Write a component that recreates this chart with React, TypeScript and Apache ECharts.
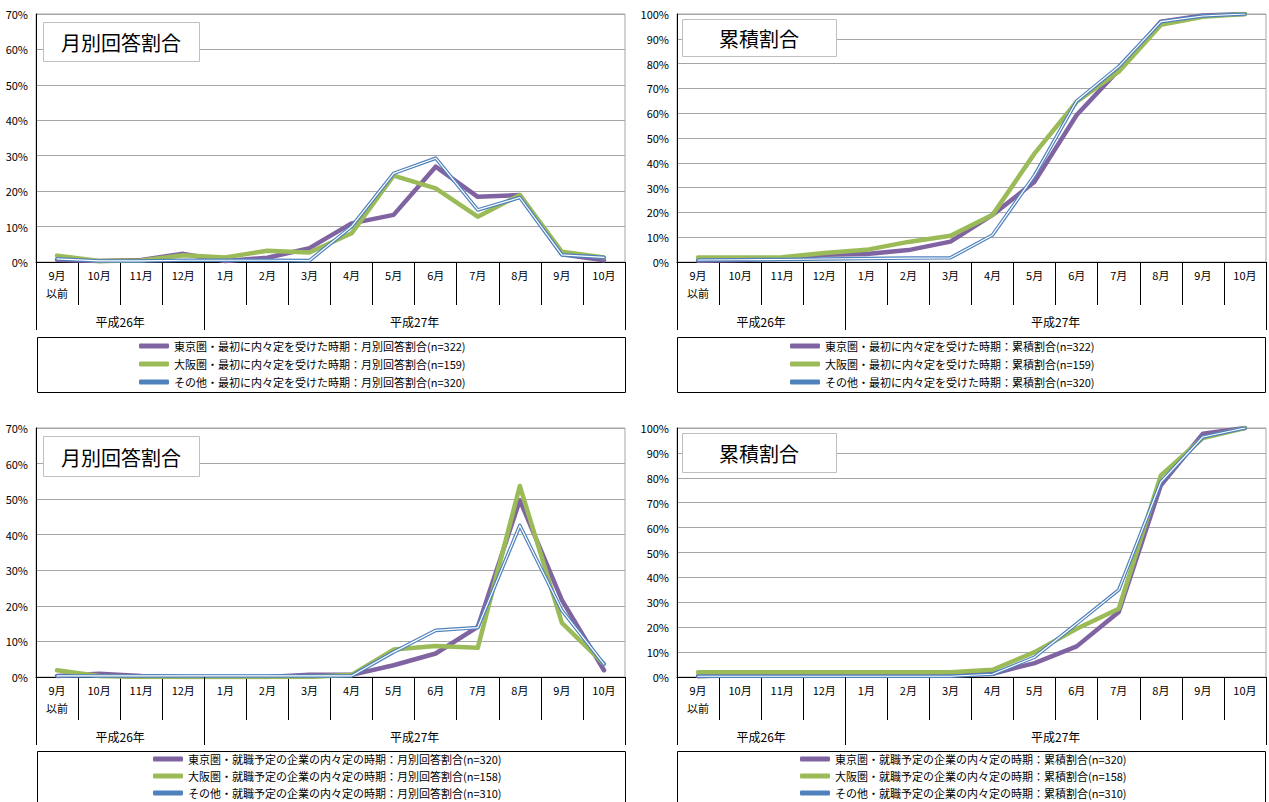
import React, { useEffect, useRef } from 'react';
import * as echarts from 'echarts';

const categories = ['9月\n以前', '10月', '11月', '12月', '1月', '2月', '3月', '4月', '5月', '6月', '7月', '8月', '9月', '10月'];
const yearLabels = ['平成26年', '平成27年'];
const yearSpans = [4, 10];

const tokyoMonthly1 = [0.6, 0.3, 0.6, 2.3, 0.3, 1.2, 3.9, 10.9, 13.3, 26.9, 18.4, 18.9, 2.2, 0.5];
const osakaMonthly1 = [1.8, 0.3, 0.4, 1.9, 1.3, 3.2, 2.7, 8.1, 24.4, 20.8, 12.8, 18.9, 2.9, 1.3];
const otherMonthly1 = [0.9, 0.3, 0.3, 0.5, 0.5, 0.5, 0.4, 10.0, 25.0, 29.3, 14.7, 18.2, 2.0, 1.3];

const tokyoCum1 = [0.5, 0.8, 1.3, 2.9, 3.2, 4.8, 8.2, 19.0, 32.4, 59.3, 77.4, 96.9, 99.4, 100];
const osakaCum1 = [1.8, 1.8, 1.9, 3.6, 4.9, 8.1, 10.6, 19.0, 43.8, 64.6, 76.7, 95.6, 98.9, 100];
const otherCum1 = [0.8, 0.9, 1.0, 1.2, 1.4, 1.6, 1.7, 10.9, 35.0, 64.9, 78.8, 96.9, 99.2, 100];

const tokyoMonthly2 = [0.3, 0.9, 0.3, 0, 0, 0, 0.6, 0.6, 3.3, 6.6, 14.1, 49.7, 21.6, 1.9];
const osakaMonthly2 = [1.9, 0.3, 0, 0, 0, 0, 0, 0.6, 7.7, 8.7, 8.2, 53.7, 15.2, 3.7];
const otherMonthly2 = [0.3, 0.3, 0.3, 0.3, 0.3, 0.3, 0.3, 0.3, 7.0, 13.1, 13.9, 42.6, 18.7, 3.6];

const tokyoCum2 = [0.3, 0.8, 0.8, 0.8, 0.8, 0.8, 1.0, 1.3, 5.6, 12.3, 26.1, 77.0, 97.7, 100];
const osakaCum2 = [1.9, 1.9, 1.9, 1.9, 1.9, 1.9, 1.9, 2.9, 10.0, 19.4, 27.4, 81.0, 96.0, 100];
const otherCum2 = [0.3, 0.3, 0.3, 0.3, 0.3, 0.3, 0.3, 1.1, 8.0, 21.4, 35.0, 78.3, 96.4, 100];

const namesTL = [
  '東京圏・最初に内々定を受けた時期：月別回答割合(n=322)',
  '大阪圏・最初に内々定を受けた時期：月別回答割合(n=159)',
  'その他・最初に内々定を受けた時期：月別回答割合(n=320)',
];
const namesTR = [
  '東京圏・最初に内々定を受けた時期：累積割合(n=322)',
  '大阪圏・最初に内々定を受けた時期：累積割合(n=159)',
  'その他・最初に内々定を受けた時期：累積割合(n=320)',
];
const namesBL = [
  '東京圏・就職予定の企業の内々定の時期：月別回答割合(n=320)',
  '大阪圏・就職予定の企業の内々定の時期：月別回答割合(n=158)',
  'その他・就職予定の企業の内々定の時期：月別回答割合(n=310)',
];
const namesBR = [
  '東京圏・就職予定の企業の内々定の時期：累積割合(n=320)',
  '大阪圏・就職予定の企業の内々定の時期：累積割合(n=158)',
  'その他・就職予定の企業の内々定の時期：累積割合(n=310)',
];

const titleMonthly = '月別回答割合';
const titleCum = '累積割合';

const FONT = '"Noto Sans CJK JP", "Noto Sans", sans-serif';
const COLORS = ['#8064A2', '#9BBB59', '#4F81BD'];
const GRID_COLOR = '#A6A6A6';

const panels = [
  { left: 36, top: 14, width: 589, height: 248, max: 70, title: titleMonthly, names: namesTL, data: [tokyoMonthly1, osakaMonthly1, otherMonthly1], titleBox: [43, 22, 156, 39], legendBox: [37.5, 337.5, 588, 55], legendLeft: 139, legendTop: 339, legendStep: 18 },
  { left: 677, top: 14, width: 589, height: 248, max: 100, title: titleCum, names: namesTR, data: [tokyoCum1, osakaCum1, otherCum1], titleBox: [682, 19, 154, 37], legendBox: [677.5, 337.5, 588, 55], legendLeft: 790, legendTop: 339, legendStep: 18 },
  { left: 36, top: 428, width: 589, height: 249, max: 70, title: titleMonthly, names: namesBL, data: [tokyoMonthly2, osakaMonthly2, otherMonthly2], titleBox: [43, 436, 156, 40], legendBox: [37.5, 751.5, 588, 60], legendLeft: 153, legendTop: 752, legendStep: 17 },
  { left: 677, top: 428, width: 589, height: 249, max: 100, title: titleCum, names: namesBR, data: [tokyoCum2, osakaCum2, otherCum2], titleBox: [682, 433, 154, 39], legendBox: [677.5, 751.5, 588, 60], legendLeft: 800, legendTop: 752, legendStep: 17 },
];

export default function App() {
  const ref = useRef<HTMLDivElement>(null);

  useEffect(() => {
    if (!ref.current) return;
    const chart = echarts.init(ref.current, undefined, { renderer: 'svg' });

    const grids: any[] = [];
    const xAxes: any[] = [];
    const yAxes: any[] = [];
    const legends: any[] = [];
    const series: any[] = [];
    const graphics: any[] = [];

    panels.forEach((p, i) => {
      grids.push({
        left: p.left, top: p.top, width: p.width, height: p.height,
        show: true, borderColor: GRID_COLOR, borderWidth: 1, containLabel: false,
      });
      xAxes.push({
        type: 'category', gridIndex: i, data: categories, boundaryGap: true,
        axisLine: { show: true, lineStyle: { color: '#000', width: 1 } },
        axisTick: { show: true, length: 43, interval: 0, lineStyle: { color: '#000' } },
        axisLabel: { interval: 0, margin: 4, fontSize: 11, lineHeight: 18, color: '#000', fontFamily: FONT },
        splitLine: { show: false },
      });
      yAxes.push({
        type: 'value', gridIndex: i, min: 0, max: p.max, interval: 10,
        axisLine: { show: true, lineStyle: { color: '#000', width: 1 } },
        axisTick: { show: false },
        axisLabel: { formatter: '{value}%', fontSize: 11, color: '#000', margin: 8, fontFamily: FONT },
        splitLine: { show: true, lineStyle: { color: GRID_COLOR, width: 1 } },
      });
      p.names.forEach((nm, k) => {
        legends.push({
          orient: 'vertical', left: p.legendLeft, top: p.legendTop + k * p.legendStep, padding: 0,
          itemWidth: 30, itemHeight: 5, itemGap: 4, icon: 'roundRect',
          data: [nm],
          textStyle: { fontSize: 11, lineHeight: 14, color: '#000', fontFamily: FONT },
          selectedMode: false,
        });
      });
      const widths = [4.5, 4.5, 3.6];
      p.data.forEach((d, k) => {
        series.push({
          type: 'line', name: p.names[k], xAxisIndex: i, yAxisIndex: i, data: d,
          symbol: 'none', showSymbol: false, silent: true,
          lineStyle: { color: COLORS[k], width: widths[k], cap: 'round', join: 'round' },
          itemStyle: { color: COLORS[k] },
          emphasis: { disabled: true },
          z: 2 + k,
        });
      });
      series.push({
        type: 'line', name: p.names[2] + '_inner', xAxisIndex: i, yAxisIndex: i, data: p.data[2],
        symbol: 'none', showSymbol: false, silent: true,
        lineStyle: { color: '#ffffff', width: 1.2, cap: 'round', join: 'round' },
        itemStyle: { color: '#ffffff' },
        emphasis: { disabled: true },
        z: 6,
      });

      // year row
      const cw = p.width / categories.length;
      const y0 = p.top + p.height;
      const y1 = y0 + 68;
      let acc = 0;
      const xs = [p.left];
      yearSpans.forEach((s) => { acc += s; xs.push(p.left + acc * cw); });
      xs.forEach((x) => {
        graphics.push({
          type: 'line', z: 40,
          shape: { x1: Math.round(x) + 0.5, y1: y0, x2: Math.round(x) + 0.5, y2: y1 },
          style: { stroke: '#000', lineWidth: 1 },
        });
      });
      yearLabels.forEach((lab, k) => {
        graphics.push({
          type: 'text', z: 40,
          style: {
            text: lab, x: (xs[k] + xs[k + 1]) / 2, y: y0 + 59,
            textAlign: 'center', align: 'center', textVerticalAlign: 'middle', verticalAlign: 'middle',
            font: `12px ${FONT}`, fill: '#000',
          },
        });
      });

      // legend box
      const [lx, ly, lw, lh] = p.legendBox;
      graphics.push({
        type: 'rect', z: 1,
        shape: { x: lx, y: ly, width: lw, height: lh },
        style: { fill: 'none', stroke: '#000', lineWidth: 1 },
      });

      // title box
      const [tx, ty, tw, th] = p.titleBox;
      graphics.push({
        type: 'rect', z: 50,
        shape: { x: tx + 0.5, y: ty + 0.5, width: tw, height: th },
        style: { fill: '#fff', stroke: '#BFBFBF', lineWidth: 1 },
      });
      graphics.push({
        type: 'text', z: 51,
        style: {
          text: p.title, x: tx + tw / 2, y: ty + th / 2 + 1,
          textAlign: 'center', align: 'center', textVerticalAlign: 'middle', verticalAlign: 'middle',
          font: `20px ${FONT}`, fill: '#000',
        },
      });
    });

    chart.setOption({
      animation: false,
      backgroundColor: '#ffffff',
      grid: grids,
      xAxis: xAxes,
      yAxis: yAxes,
      legend: legends,
      series,
      graphic: { elements: graphics },
    });

    return () => { chart.dispose(); };
  }, []);

  return (
    <div
      ref={ref}
      style={{ position: 'fixed', left: 0, top: 0, width: '1269px', height: '802px', background: '#fff' }}
    />
  );
}
